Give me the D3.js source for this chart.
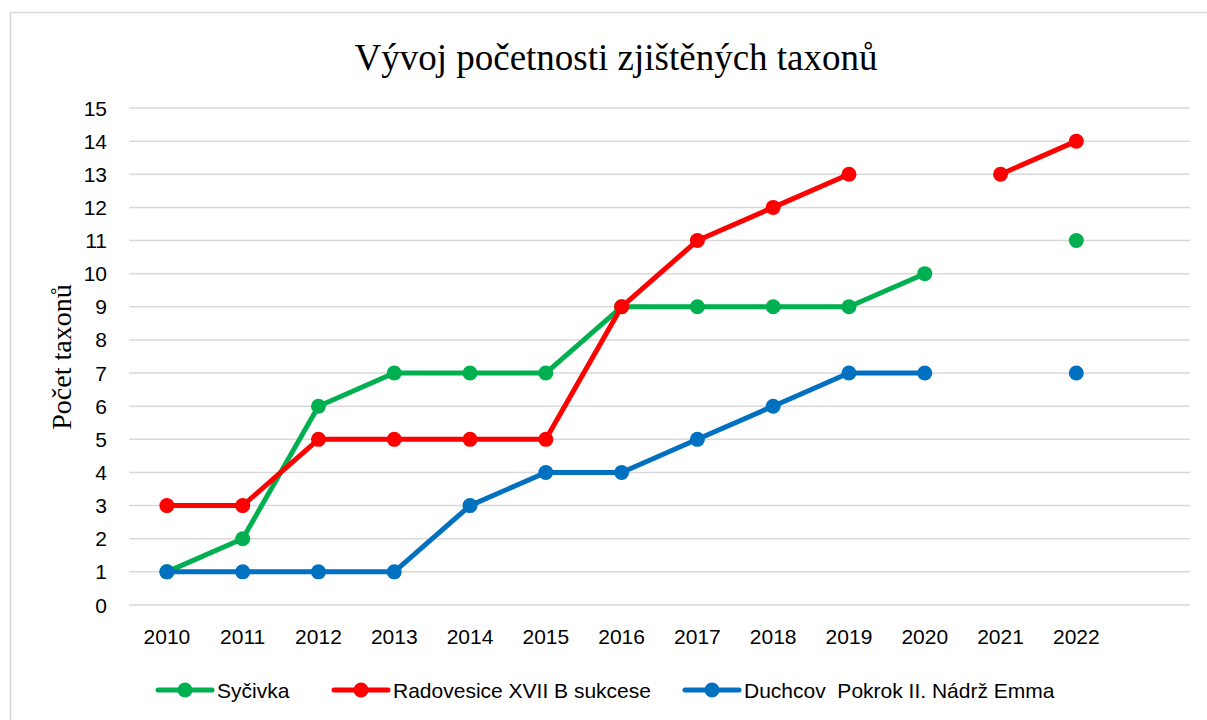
<!DOCTYPE html>
<html>
<head>
<meta charset="utf-8">
<script src="https://cdn.jsdelivr.net/npm/d3@7"></script>
<style>
  body { margin: 0; background: #fff; }
  .tick-label { font-family: "Liberation Sans", Arial, sans-serif; font-size: 21px; fill: #000; }
  .legend-label { font-family: "Liberation Sans", Arial, sans-serif; font-size: 21px; fill: #000; white-space: pre; }
  .chart-title { font-family: "Liberation Serif", "Times New Roman", serif; font-size: 37px; fill: #000; }
  .axis-label { font-family: "Liberation Serif", "Times New Roman", serif; font-size: 28px; fill: #000; }
</style>
</head>
<body>
<div id="container"></div>
<script>
/* CONSTANTS AND GLOBALS */
const width = 1207;
const height = 720;
const margin = { top: 108, right: 17, bottom: 115, left: 129 };

/* DATA */
const years = ["2010", "2011", "2012", "2013", "2014", "2015", "2016", "2017", "2018", "2019", "2020", "2021", "2022"];
const sycivka = [1, 2, 6, 7, 7, 7, 9, 9, 9, 9, 10, null, 11];
const radovesice = [3, 3, 5, 5, 5, 5, 9, 11, 12, 13, null, 13, 14];
const duchcov = [1, 1, 1, 1, 3, 4, 4, 5, 6, 7, 7, null, 7];
const yTicks = [0, 1, 2, 3, 4, 5, 6, 7, 8, 9, 10, 11, 12, 13, 14, 15];

const series = [
  { name: "Syčivka", values: sycivka, color: "#00B050" },
  { name: "Radovesice XVII B sukcese", values: radovesice, color: "#FF0000" },
  { name: "Duchcov  Pokrok II. Nádrž Emma", values: duchcov, color: "#0070C0" }
];

/* SCALES */
// one empty slot after 2022, like the original category axis
const xScale = d3.scaleBand()
  .domain(years.concat([" "]))
  .range([margin.left, width - margin.right]);

const x = d => xScale(d) + xScale.bandwidth() / 2;

const yScale = d3.scaleLinear()
  .domain([0, 15])
  .range([height - margin.bottom, margin.top]);

/* SVG */
const svg = d3.select("#container")
  .append("svg")
  .attr("width", width)
  .attr("height", height);

// chart border
svg.append("rect")
  .attr("x", 10.5)
  .attr("y", 12.5)
  .attr("width", width)
  .attr("height", height)
  .attr("fill", "none")
  .attr("stroke", "#d9d9d9")
  .attr("stroke-width", 1.5);

// gridlines
svg.append("g")
  .selectAll("line")
  .data(yTicks)
  .join("line")
  .attr("x1", margin.left)
  .attr("x2", width - margin.right)
  .attr("y1", d => yScale(d))
  .attr("y2", d => yScale(d))
  .attr("stroke", "#d9d9d9")
  .attr("stroke-width", 1.5);

// y tick labels
svg.append("g")
  .selectAll("text")
  .data(yTicks)
  .join("text")
  .attr("class", "tick-label")
  .attr("text-anchor", "end")
  .attr("x", 107)
  .attr("y", d => yScale(d))
  .attr("dy", "0.36em")
  .text(d => d);

// x tick labels
svg.append("g")
  .selectAll("text")
  .data(years)
  .join("text")
  .attr("class", "tick-label")
  .attr("text-anchor", "middle")
  .attr("x", d => x(d))
  .attr("y", 644)
  .text(d => d);

// lines (gaps where a value is missing)
const line = d3.line()
  .defined(d => d.v != null)
  .x(d => x(d.year))
  .y(d => yScale(d.v));

series.forEach(s => {
  const pts = years.map((yr, i) => ({ year: yr, v: s.values[i] }));

  svg.append("path")
    .datum(pts)
    .attr("d", line)
    .attr("fill", "none")
    .attr("stroke", s.color)
    .attr("stroke-width", 5)
    .attr("stroke-linejoin", "round")
    .attr("stroke-linecap", "round");

  svg.append("g")
    .selectAll("circle")
    .data(pts.filter(d => d.v != null))
    .join("circle")
    .attr("cx", d => x(d.year))
    .attr("cy", d => yScale(d.v))
    .attr("r", 7.5)
    .attr("fill", s.color);
});

// title
svg.append("text")
  .attr("class", "chart-title")
  .attr("text-anchor", "middle")
  .attr("x", 616)
  .attr("y", 70)
  .text("Vývoj početnosti zjištěných taxonů");

// y-axis label
svg.append("text")
  .attr("class", "axis-label")
  .attr("text-anchor", "middle")
  .attr("transform", "rotate(-90)")
  .attr("x", -357)
  .attr("y", 71)
  .text("Počet taxonů");

// legend
const legendX = [158, 334, 685];
const legend = svg.append("g")
  .selectAll("g")
  .data(series)
  .join("g")
  .attr("transform", (d, i) => `translate(${legendX[i]}, 690)`);

legend.append("line")
  .attr("x1", 0)
  .attr("x2", 54)
  .attr("stroke", d => d.color)
  .attr("stroke-width", 5)
  .attr("stroke-linecap", "round");

legend.append("circle")
  .attr("cx", 27)
  .attr("r", 7.5)
  .attr("fill", d => d.color);

legend.append("text")
  .attr("class", "legend-label")
  .attr("x", 59)
  .attr("dy", "0.36em")
  .text(d => d.name);
</script>
</body>
</html>
